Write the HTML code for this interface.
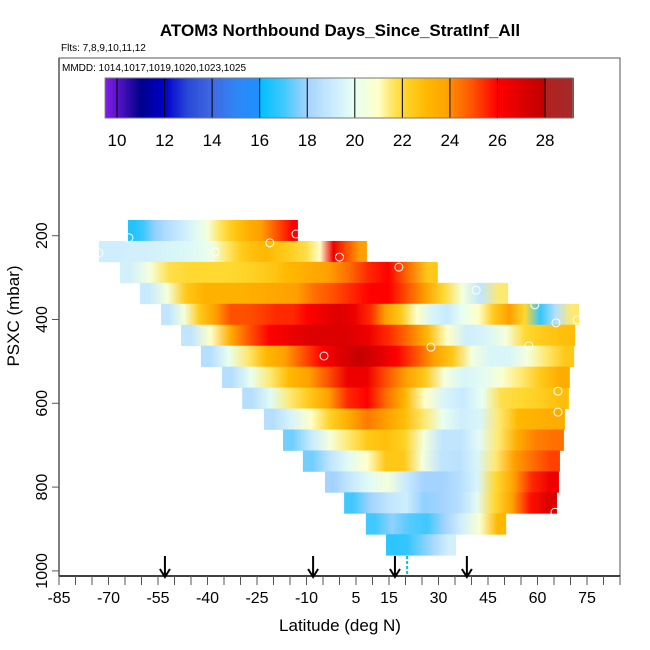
<!DOCTYPE html>
<html><head><meta charset="utf-8"><style>
html,body{margin:0;padding:0;background:#fff}
svg{display:block;font-family:"Liberation Sans",Arial,sans-serif}
</style></head><body>
<svg id="chart" width="650" height="650" viewBox="0 0 650 650">
<defs id="defs"></defs>
<text x="340" y="36" text-anchor="middle" font-size="17" font-weight="bold">ATOM3 Northbound Days_Since_StratInf_All</text>
<text x="61" y="51" font-size="10">Flts: 7,8,9,10,11,12</text>
<rect x="59" y="58" width="561" height="518" fill="none" stroke="#555" stroke-width="1"/>
<text x="62" y="71" font-size="10">MMDD: 1014,1017,1019,1020,1023,1025</text>
<g id="cbar"></g>
<g id="curtain"></g>
<g id="pts"></g>
<g id="axes"></g>
<text x="340" y="631" text-anchor="middle" font-size="17">Latitude (deg N)</text>
<text transform="translate(19,316) rotate(-90)" text-anchor="middle" font-size="17">PSXC (mbar)</text>
</svg>
<script>
const rowPressures=[187.5,237.5,287.5,337.5,387.5,437.5,487.5,537.5,587.5,637.5,687.5,737.5,787.5,837.5,887.5,937.5];
const rowLatStart=[-64.1,-72.9,-66.5,-60.5,-54.1,-48.0,-42.0,-35.6,-29.5,-22.9,-17.1,-11.1,-4.4,1.4,8.0,14.1];
const rowLatEnd=[-12.6,8.3,29.8,51.1,72.6,71.4,71.1,69.8,69.5,68.3,68.0,66.8,66.5,65.9,50.5,35.3];
const rowValues=[
[16.5,17,17.8,18.3,18.8,19.3,19.8,20.5,21.5,22.2,22.8,23.5,24,24.5,25.3,26],
[19.2,19.2,19.3,19.3,19.4,19.5,19.6,19.8,20.3,21.5,22.3,22.8,23,22.6,22.2,21.8,21,26.5,25,24],
[19.3,20.5,21.8,22,22,22,22.2,22.5,23,23.5,24,24.5,25.5,26,24.5,22.5],
[19,20.5,22.5,23.3,23.3,23.3,23.5,23.8,24,24.5,25,25.5,26,26,25,24,22,20.5,18.8,21.5],
[18.8,20.5,22.5,24,25,25,25.2,25.5,25.5,26,26.5,27,26.5,25.5,24,22.5,21,19.5,19,20,21,22.5,24,22,16.8,18.5,21.5],
[18.8,21,23.5,25,26,26.5,27,27,27,26.5,25.5,24.5,23,21,19.2,19.5,20.5,22,22.5,22.8],
[18.5,20,21.5,23,24,25,26,27,27.8,27,26,25,24,22.5,20.5,19.5,19.5,20.5,21.5,22.5],
[18.5,20,21.5,23,24,25,26.5,26.5,25,24,22.5,20.5,19.5,19.8,20.8,21.5,22.5,23.5],
[18.5,19.8,21.5,22.5,24,25.5,26,24.5,23,21,19.5,19,20,21.8,22,22.3,22.8],
[18.5,19.5,21,22.2,23.5,24.3,24,22.8,21.5,20,19.2,19.5,21.5,23,23.3,23.5],
[17.5,19,20.5,21.5,22.5,22.8,22.2,20.5,18.8,18.8,19.8,21.5,23.5,24.2,24.5],
[17.5,18.8,19.8,21,22.5,22.5,20.5,18.8,18.6,19.5,21.5,24,24.5,25.2],
[18,19,19.8,20.5,19,18,18,18.5,19.5,22,24,25.5,26.5],
[17,18,18.8,19.2,17.8,18,18.5,19.8,22,24,25.8,27],
[17,17.8,17.2,17,18,19.3,20.8,23],
[16.7,16.8,17.5,18.3,19.3]
];
const pointLats=[-63.8,-72.9,-37.7,-21.1,-13.2,0,-4.7,18.0,41.4,59.2,65.6,72.0,27.7,57.4,66.2,66.2,65.3];
const pointPres=[205,241,239,217,196,251,487,275,330,365,408,401,466,463,571,621,860];
const arrowLats=[-52.9,-8.0,16.8,38.6];
const xTickLabels=[-85,-70,-55,-40,-25,-10,5,15,30,45,60,75];
const yTickLabels=[200,400,600,800,1000];
const cbarTicks=[10,12,14,16,18,20,22,24,26,28];
const cmapStops=[[9.5,'#7f1fe8'],[10,'#5a15c8'],[11,'#00008b'],[12,'#0000cd'],[13,'#2a4ad8'],[14,'#4169e1'],[15,'#2e86f5'],[16,'#1e90ff'],[16.01,'#00bfff'],[17,'#40c8ff'],[18,'#a4d3ff'],[19,'#c8eaff'],[20,'#e8fff0'],[21,'#ffffc8'],[21.5,'#ffe870'],[22,'#ffd830'],[23,'#ffb800'],[24,'#ffa000'],[24.01,'#ff8c00'],[25,'#ff5000'],[26,'#ff0000'],[27,'#dd0000'],[28,'#c00000'],[28.01,'#b22222'],[29.2,'#a52a2a']];

const NS='http://www.w3.org/2000/svg';
const xs=lat=>59+(lat+85)*3.3;
const ys=p=>235.7+(p-200)*0.419;
const cx=v=>117+(v-10)*23.78;
function hex(h){return [1,3,5].map(i=>parseInt(h.substr(i,2),16));}
function color(v){
  if(v<=cmapStops[0][0])return cmapStops[0][1];
  for(let i=1;i<cmapStops.length;i++){
    if(v<=cmapStops[i][0]){
      const a=cmapStops[i-1],b=cmapStops[i],t=(v-a[0])/(b[0]-a[0]);
      const ca=hex(a[1]),cb=hex(b[1]);
      return 'rgb('+ca.map((c,k)=>Math.round(c+(cb[k]-c)*t)).join(',')+')';
    }
  }
  return cmapStops[cmapStops.length-1][1];
}
function mk(tag,attrs,parent){const e=document.createElementNS(NS,tag);for(const k in attrs)e.setAttribute(k,attrs[k]);parent.appendChild(e);return e;}

// colorbar
const cb=document.getElementById('cbar');
for(let v=9.5;v<29.17;v+=0.05){
  const r=mk('rect',{x:cx(v),y:78,width:23.78*0.05+0.4,height:40,fill:color(v+0.025)},cb);
  
  
}
cbarTicks.forEach(t=>{
  const l=mk('line',{x1:cx(t),x2:cx(t),y1:78,y2:118,stroke:'#000','stroke-width':1},cb);
  
  
  const tx=mk('text',{x:cx(t),y:146,'text-anchor':'middle','font-size':17},cb);
  tx.textContent=t;
  
  
});
const cbb=mk('rect',{x:cx(9.5),y:78,width:cx(29.17)-cx(9.5),height:40,fill:'none',stroke:'#777','stroke-width':1},cb);



// curtain (each row: gradient through its samples)
const defs=document.getElementById('defs');
const cg=document.getElementById('curtain');
rowPressures.forEach((p,i)=>{
  const vals=rowValues[i],n=vals.length;
  const x0=xs(rowLatStart[i]),x1=xs(rowLatEnd[i]);
  const y0=ys(p-25),y1=ys(p+25);
  const g=mk('linearGradient',{id:'row'+i,x1:0,x2:1,y1:0,y2:0},defs);
  vals.forEach((v,j)=>{
    mk('stop',{offset:((j+0.5)/n).toFixed(4),'stop-color':color(v)},g);
  });
  const r=mk('rect',{x:x0,y:y0,width:x1-x0,height:y1-y0+0.4,fill:'url(#row'+i+')'},cg);
  
  
});

// points
const pg=document.getElementById('pts');
pointLats.forEach((lat,i)=>{
  const c=mk('circle',{cx:xs(lat),cy:ys(pointPres[i]),r:4,fill:'none',stroke:'#fff','stroke-width':1},pg);
  
  
});

// axes
const ag=document.getElementById('axes');
const cyanMark=mk('line',{x1:xs(20.5),x2:xs(20.5),y1:556,y2:576,stroke:'#00bfff','stroke-width':2,'stroke-dasharray':'3,2'},ag);


const xl=mk('line',{x1:59,x2:620,y1:576,y2:576,stroke:'#000','stroke-width':1.5},ag);


for(let lat=-85;lat<=85;lat+=5){
  const t=mk('line',{x1:xs(lat),x2:xs(lat),y1:576,y2:585,stroke:'#555','stroke-width':1},ag);
  
  
}
xTickLabels.forEach(v=>{
  const t=mk('text',{x:xs(v),y:603,'text-anchor':'middle','font-size':16},ag);
  t.textContent=v;
  
  
});
yTickLabels.forEach(v=>{
  const l=mk('line',{x1:52,x2:59,y1:ys(v),y2:ys(v),stroke:'#555','stroke-width':1},ag);
  
  
  const t=mk('text',{transform:'translate(47,'+ys(v)+') rotate(-90)','text-anchor':'middle','font-size':16},ag);
  t.textContent=v;
  
  
});
const yl=mk('line',{x1:59,x2:59,y1:58,y2:576,stroke:'#555','stroke-width':1.5},ag);


arrowLats.forEach(lat=>{
  const x=xs(lat);
  const a=mk('path',{d:'M'+x+' 556 L'+x+' 577 M'+(x-5)+' 569 L'+x+' 577 L'+(x+5)+' 569',stroke:'#000','stroke-width':2,fill:'none'},ag);
  
  
});
</script>
</body></html>
